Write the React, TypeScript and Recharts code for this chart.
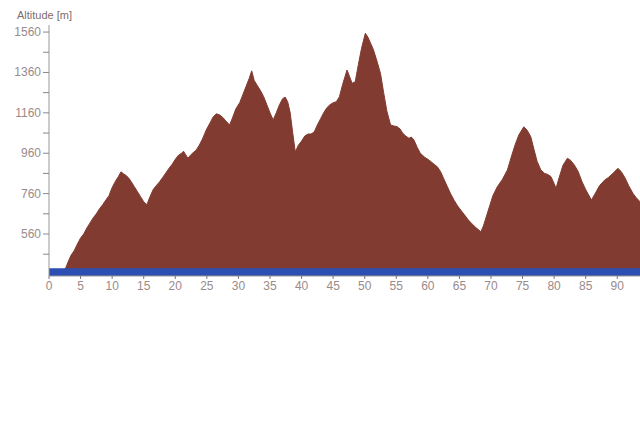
import React from "react";
import {
  ComposedChart,
  Area,
  XAxis,
  YAxis,
  ReferenceArea,
} from "recharts";

// distance along the route [km]
const distance = [
  0, 1, 2, 2.6, 3, 3.5, 4, 4.5, 5, 5.5, 6, 6.5, 7, 7.5, 8, 8.5, 9, 9.5, 10, 10.5,
  11, 11.4, 11.8, 12.2, 12.6, 13, 13.5, 14, 14.5, 15, 15.5, 16, 16.5, 17, 17.5,
  18, 18.5, 19, 19.5, 20, 20.5, 21, 21.3, 21.6, 22, 22.4, 22.8, 23.3, 23.8,
  24.3, 24.9, 25.5, 26, 26.5, 27, 27.5, 28, 28.6, 29, 29.6, 30.2, 30.7, 31.2,
  31.7, 32.1, 32.5, 33, 33.5, 34, 34.5, 35, 35.5, 36, 36.5, 37, 37.4, 37.8,
  38.2, 38.6, 39, 39.5, 40, 40.5, 41, 41.5, 42, 42.5, 43, 43.5, 44, 44.5, 45,
  45.5, 46, 46.5, 47.2, 47.6, 48, 48.5, 49, 49.5, 50.1, 50.5, 51, 51.4, 52,
  52.5, 53, 53.5, 54.1, 54.6, 55.1, 55.6, 56, 56.5, 57, 57.4, 57.8, 58.3, 58.8,
  59.5, 60, 60.5, 61, 61.5, 62, 62.5, 63.1, 63.6, 64.2, 64.7, 65.2, 65.8, 66.4,
  67, 67.6, 68.4, 68.8, 69.3, 69.8, 70.3, 71, 71.8, 72.6, 73.2, 73.8, 74.4,
  75.2, 75.7, 76.3, 76.8, 77.3, 77.9, 78.5, 79, 79.5, 80, 80.3, 80.8, 81.4,
  82.1, 82.6, 83.2, 83.8, 84.4, 85, 85.9, 86.5, 87.2, 88, 88.6, 89.3, 90.1,
  90.6, 91.2, 91.8, 92.5, 93, 93.6,
];

// altitude [m]
const altitude = [
  375, 375, 378, 388, 420, 455, 478, 510, 540, 560, 590, 615, 640, 660, 685,
  705, 728, 750, 790, 820, 845, 868, 858, 850, 838, 820, 795, 770, 745, 720,
  705, 745, 780, 800, 818, 840, 862, 885, 905, 930, 950, 960, 970, 955, 935,
  950, 962, 975, 1000, 1030, 1075, 1110, 1140, 1155, 1150, 1138, 1120, 1100,
  1130, 1180, 1210, 1250, 1290, 1330, 1368, 1320, 1295, 1270, 1240, 1200, 1160,
  1125, 1160, 1200, 1230, 1238, 1215, 1160, 1060, 967, 1000, 1020, 1045, 1055,
  1055, 1065, 1100, 1130, 1160, 1185, 1200, 1210, 1215, 1240, 1300, 1372, 1340,
  1306, 1314, 1400, 1480, 1554, 1535, 1500, 1471, 1410, 1355, 1260, 1170, 1100,
  1095, 1092, 1080, 1060, 1045, 1034, 1040, 1025, 990, 960, 940, 930, 918, 905,
  893, 870, 835, 794, 760, 725, 700, 679, 655, 630, 610, 592, 571, 600, 650,
  700, 750, 794, 830, 877, 940, 1000, 1050, 1091, 1075, 1042, 980, 920, 877,
  860, 855, 844, 810, 786, 840, 900, 935, 925, 902, 870, 820, 780, 728, 760,
  800, 827, 840, 860, 885, 870, 840, 800, 760, 740, 720,
];

const xTicks = [0, 5, 10, 15, 20, 25, 30, 35, 40, 45, 50, 55, 60, 65, 70, 75, 80, 85, 90];
const yTicks = [460, 560, 660, 760, 860, 960, 1060, 1160, 1260, 1360, 1460, 1560];
const yLabels = [560, 760, 960, 1160, 1360, 1560];

const yMin = 352;
const yMax = 1595;
const bandTop = 390;

const data = distance.map((d, i) => ({ km: d, alt: altitude[i] }));

const labelColor = "#9a8a8c";
const font = "'Liberation Sans', Arial, sans-serif";

const YTick = (props: any) => {
  const { x, y, payload } = props;
  if (!yLabels.includes(payload.value)) return <g />;
  return (
    <text x={x} y={y} dy={4} textAnchor="end" fill={labelColor} fontSize={12} fontFamily={font}>
      {payload.value}
    </text>
  );
};

export default function App() {
  return (
    <div style={{ position: "absolute", left: 0, top: 0, width: 640, height: 447, background: "#fff" }}>
      <div
        style={{
          position: "absolute",
          left: 17,
          top: 9,
          fontSize: 11,
          fontFamily: font,
          color: "#7e6c6e",
        }}
      >
        Altitude [m]
      </div>
      <ComposedChart
        width={640}
        height={447}
        data={data}
        margin={{ top: 25, right: 0, left: 0, bottom: 151 }}
      >
        <XAxis
          dataKey="km"
          type="number"
          domain={[0, 93.6]}
          ticks={xTicks}
          allowDataOverflow
          tickLine={{ stroke: "#777" }}
          tickSize={3}
          axisLine={{ stroke: "#999" }}
          tick={{ fill: labelColor, fontSize: 12, fontFamily: font }}
          height={20}
        />
        <XAxis
          xAxisId="top"
          orientation="top"
          dataKey="km"
          type="number"
          domain={[0, 93.6]}
          tick={false}
          tickLine={false}
          axisLine={{ stroke: "#9a9a9a", strokeWidth: 2 }}
          height={0}
        />
        <YAxis
          type="number"
          domain={[yMin, yMax]}
          ticks={yTicks}
          allowDataOverflow
          width={49}
          tickSize={6}
          tickLine={{ stroke: "#888" }}
          axisLine={{ stroke: "#999" }}
          tick={<YTick />}
          interval={0}
        />
        <Area
          type="linear"
          dataKey="alt"
          stroke="#813b31"
          strokeWidth={1}
          fill="#813b31"
          fillOpacity={1}
          baseValue={yMin}
          isAnimationActive={false}
          dot={false}
          activeDot={false}
        />
        <ReferenceArea
          y1={yMin}
          y2={bandTop}
          fill="#2b4fb2"
          fillOpacity={1}
          stroke="none"
          ifOverflow="hidden"
        />
      </ComposedChart>
    </div>
  );
}
